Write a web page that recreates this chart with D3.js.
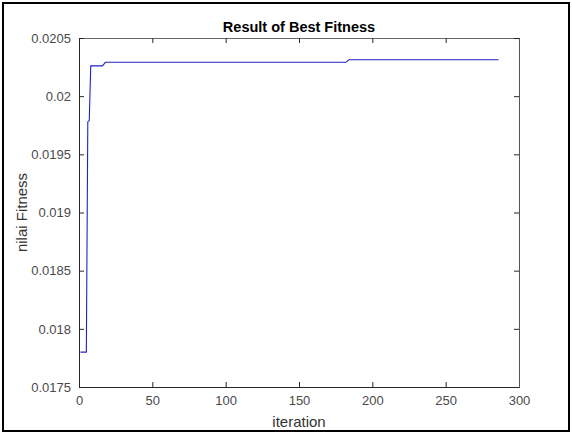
<!DOCTYPE html>
<html>
<head>
<meta charset="utf-8">
<script src="https://cdn.jsdelivr.net/npm/d3@7/dist/d3.min.js"></script>
<style>
  html, body { margin: 0; padding: 0; background: #fff; }
  svg { display: block; }
  text { font-family: "Liberation Sans", Arial, Helvetica, sans-serif; }
</style>
</head>
<body>
<svg id="chart" width="572" height="434"></svg>
<script>
// Best fitness per iteration (breakpoints of the step curve)
const iterations = [1, 5, 6, 7, 8, 16, 18, 182, 184, 286];
const fitness = [0.0178, 0.0178, 0.01978, 0.01979, 0.02026, 0.02026, 0.020291, 0.020291, 0.020313, 0.020313];

const xTicks = [0, 50, 100, 150, 200, 250, 300];
const yTicks = [0.0175, 0.018, 0.0185, 0.019, 0.0195, 0.02, 0.0205];
const yTickLabels = ["0.0175", "0.018", "0.0185", "0.019", "0.0195", "0.02", "0.0205"];

const titleText = "Result of Best Fitness";
const xLabelText = "iteration";
const yLabelText = "nilai Fitness";

const svg = d3.select("#chart");
const W = 572, H = 434;
const plot = { left: 79, right: 519, top: 38, bottom: 387 };

// figure frame
svg.append("rect")
  .attr("x", 3).attr("y", 3)
  .attr("width", W - 6).attr("height", H - 6)
  .attr("fill", "#fff").attr("stroke", "#000").attr("stroke-width", 2);

const x = d3.scaleLinear().domain([0, 300]).range([plot.left, plot.right]);
const y = d3.scaleLinear().domain([0.0175, 0.0205]).range([plot.bottom, plot.top]);

const axisColor = "#262626";
const tickColor = "#4a4a4a";

const g = svg.append("g");

// bottom axis (ticks inward)
const xAxis = d3.axisBottom(x).tickValues(xTicks).tickSize(-5).tickPadding(9).tickFormat(d3.format("d"));
const gx = g.append("g").attr("transform", `translate(0,${plot.bottom})`).call(xAxis);
// top mirrored ticks
const gxt = g.append("g").attr("transform", `translate(0,${plot.top})`)
  .call(d3.axisTop(x).tickValues(xTicks).tickSize(-5).tickFormat(""));
// left axis
const yAxis = d3.axisLeft(y).tickValues(yTicks).tickSize(-5).tickPadding(8)
  .tickFormat((d, i) => yTickLabels[i]);
const gy = g.append("g").attr("transform", `translate(${plot.left},0)`).call(yAxis);
// right mirrored ticks
const gyr = g.append("g").attr("transform", `translate(${plot.right},0)`)
  .call(d3.axisRight(y).tickValues(yTicks).tickSize(-5).tickFormat(""));

[gx, gxt, gy, gyr].forEach(a => {
  a.selectAll(".domain").attr("stroke", axisColor).attr("stroke-width", 1);
  a.selectAll(".tick line").attr("stroke", axisColor);
  a.selectAll(".tick text").attr("fill", tickColor).attr("font-size", 13)
    .style("font-family", "'Liberation Sans', Arial, sans-serif");
});
gxt.selectAll(".domain").attr("stroke", "#666");
gyr.selectAll(".domain").attr("stroke", "#555");

// fitness curve
const pts = iterations.map((it, i) => [it, fitness[i]]);
g.append("path")
  .datum(pts)
  .attr("fill", "none")
  .attr("stroke", "#2222c8")
  .attr("stroke-width", 1.1)
  .attr("d", d3.line().x(d => x(d[0])).y(d => y(d[1])));

// title and labels
svg.append("text")
  .attr("x", (plot.left + plot.right) / 2).attr("y", 32)
  .attr("text-anchor", "middle")
  .attr("font-size", 14.5).attr("font-weight", "bold").attr("fill", "#000")
  .text(titleText);

svg.append("text")
  .attr("x", (plot.left + plot.right) / 2).attr("y", 427)
  .attr("text-anchor", "middle")
  .attr("font-size", 15).attr("fill", "#333")
  .text(xLabelText);

svg.append("text")
  .attr("transform", `translate(22,${(plot.top + plot.bottom) / 2}) rotate(-90)`)
  .attr("text-anchor", "middle")
  .attr("dy", "0.35em")
  .attr("font-size", 15).attr("fill", "#333")
  .text(yLabelText);
</script>
</body>
</html>
